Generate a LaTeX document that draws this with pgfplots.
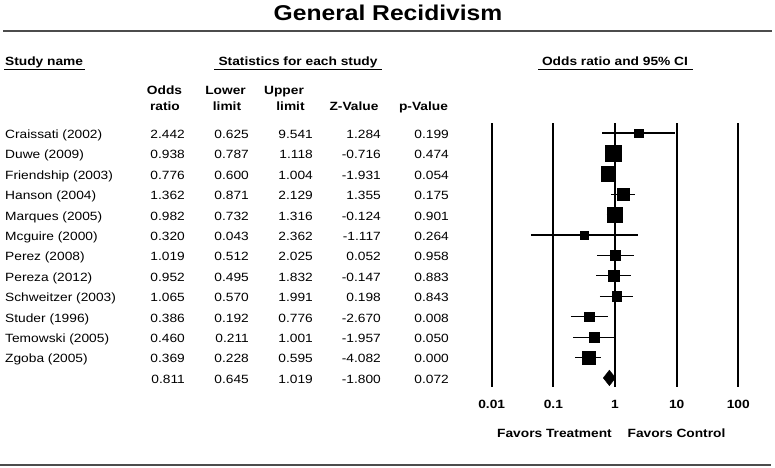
\documentclass[border=0pt]{standalone}
\usepackage{fontspec}
\setmainfont{Liberation Sans}[FakeStretch=1.15]
\usepackage{pgfplots}
\pgfplotsset{compat=1.18}
\usepackage{pgfplotstable}

\pgfplotstableread{
row or lo hi ms
1 2.442 0.625 9.541 4.3
2 0.938 0.787 1.118 8.0
3 0.776 0.600 1.004 7.4
4 1.362 0.871 2.129 6.3
5 0.982 0.732 1.316 7.6
6 0.320 0.043 2.362 4.0
7 1.019 0.512 2.025 5.1
8 0.952 0.495 1.832 5.4
9 1.065 0.570 1.991 5.0
10 0.386 0.192 0.776 5.0
11 0.460 0.211 1.001 4.9
12 0.369 0.228 0.595 6.5
}\studies

\newcommand\fs[1]{\fontsize{#1}{#1}\selectfont}
\newcommand\trow[7]{%
 \node[anchor=base west] at (5bp,-#1bp) {#2};
 \node[anchor=base east] at (185bp,-#1bp) {#3};
 \node[anchor=base east] at (249bp,-#1bp) {#4};
 \node[anchor=base east] at (313bp,-#1bp) {#5};
 \node[anchor=base east] at (381bp,-#1bp) {#6};
 \node[anchor=base east] at (449bp,-#1bp) {#7};}

\begin{document}
\begin{tikzpicture}[every node/.style={font=\fs{12}, inner sep=0pt}]
\path[use as bounding box] (0,0) rectangle (775bp,-468bp);

% title and rules
\node[anchor=base, font=\bfseries\fs{21.5}] at (388bp,-20bp) {General Recidivism};
\draw[black!70, line width=1.5bp] (3bp,-31bp) -- (772bp,-31bp);
\draw[black!70, line width=1.5bp] (0bp,-465bp) -- (771bp,-465bp);

% section headers
\node[anchor=base west, font=\bfseries\fs{12}] at (5bp,-65bp) {Study name};
\draw[line width=1.2bp] (4bp,-69.5bp) -- (85bp,-69.5bp);
\node[anchor=base, font=\bfseries\fs{12}] at (298bp,-65bp) {Statistics for each study};
\draw[line width=1.2bp] (214bp,-69.5bp) -- (382bp,-69.5bp);
\node[anchor=base, font=\bfseries\fs{12}] at (615bp,-65bp) {Odds ratio and 95\% CI};
\draw[line width=1.2bp] (538bp,-69.5bp) -- (693bp,-69.5bp);

% column headers
\begin{scope}[every node/.style={font=\bfseries\fs{12}, inner sep=0pt, anchor=base}]
\node at (164.5bp,-94bp) {Odds};
\node at (165bp,-110.7bp) {ratio};
\node at (225.5bp,-94bp) {Lower};
\node at (227bp,-110.7bp) {limit};
\node at (284bp,-94bp) {Upper};
\node at (290.5bp,-110.7bp) {limit};
\node at (354bp,-110.7bp) {Z-Value};
\node at (423.5bp,-110.7bp) {p-Value};
\end{scope}

% table rows
\trow{138.3}{Craissati (2002)}{2.442}{0.625}{9.541}{1.284}{0.199}
\trow{158.7}{Duwe (2009)}{0.938}{0.787}{1.118}{-0.716}{0.474}
\trow{179.1}{Friendship (2003)}{0.776}{0.600}{1.004}{-1.931}{0.054}
\trow{199.6}{Hanson (2004)}{1.362}{0.871}{2.129}{1.355}{0.175}
\trow{220.0}{Marques (2005)}{0.982}{0.732}{1.316}{-0.124}{0.901}
\trow{240.4}{Mcguire (2000)}{0.320}{0.043}{2.362}{-1.117}{0.264}
\trow{260.8}{Perez (2008)}{1.019}{0.512}{2.025}{0.052}{0.958}
\trow{281.2}{Pereza (2012)}{0.952}{0.495}{1.832}{-0.147}{0.883}
\trow{301.7}{Schweitzer (2003)}{1.065}{0.570}{1.991}{0.198}{0.843}
\trow{322.1}{Studer (1996)}{0.386}{0.192}{0.776}{-2.670}{0.008}
\trow{342.5}{Temowski (2005)}{0.460}{0.211}{1.001}{-1.957}{0.050}
\trow{362.9}{Zgoba (2005)}{0.369}{0.228}{0.595}{-4.082}{0.000}
\trow{383.3}{}{0.811}{0.645}{1.019}{-1.800}{0.072}

% favors labels
\node[anchor=base, font=\bfseries\fs{12}] at (554.5bp,-437.5bp) {Favors Treatment};
\node[anchor=base, font=\bfseries\fs{12}] at (676.5bp,-437.5bp) {Favors Control};

\begin{axis}[
  at={(491.7bp,-123.3bp)}, anchor=north west,
  scale only axis, width=246.6bp, height=263.4bp,
  xmode=log, log basis x=10,
  xmin=0.01, xmax=100,
  ymin=0.525, ymax=13.43, y dir=reverse,
  axis line style={draw=none},
  major tick length=0pt,
  ytick=\empty,
  xtick={0.01,0.1,1,10,100},
  xticklabels={0.01,0.1,1,10,100},
  xticklabel style={font=\bfseries\fs{12}, anchor=base, yshift=-21.3bp, inner sep=0pt},
  xmajorgrids,
  major grid style={black, line width=1.8bp},
  clip=false,
]
\addplot[black, line width=1.2bp] coordinates {(0.625,1) (9.541,1)};
\addplot[black, line width=1.2bp] coordinates {(0.787,2) (1.118,2)};
\addplot[black, line width=1.2bp] coordinates {(0.600,3) (1.004,3)};
\addplot[black, line width=1.2bp] coordinates {(0.871,4) (2.129,4)};
\addplot[black, line width=1.2bp] coordinates {(0.732,5) (1.316,5)};
\addplot[black, line width=1.2bp] coordinates {(0.043,6) (2.362,6)};
\addplot[black, line width=1.2bp] coordinates {(0.512,7) (2.025,7)};
\addplot[black, line width=1.2bp] coordinates {(0.495,8) (1.832,8)};
\addplot[black, line width=1.2bp] coordinates {(0.570,9) (1.991,9)};
\addplot[black, line width=1.2bp] coordinates {(0.192,10) (0.776,10)};
\addplot[black, line width=1.2bp] coordinates {(0.211,11) (1.001,11)};
\addplot[black, line width=1.2bp] coordinates {(0.228,12) (0.595,12)};
\addplot[only marks, mark=square*, scatter,
  visualization depends on={\thisrow{ms} \as \msz},
  scatter/use mapped color={draw=black, fill=black},
  scatter/@pre marker code/.append style={/tikz/mark size=\msz}]
  table[x=or, y=row] {\studies};
\addplot[fill=black, draw=black] coordinates {(0.645,13) (0.811,12.62) (1.019,13) (0.811,13.38)} -- cycle;
\end{axis}
\end{tikzpicture}
\end{document}
